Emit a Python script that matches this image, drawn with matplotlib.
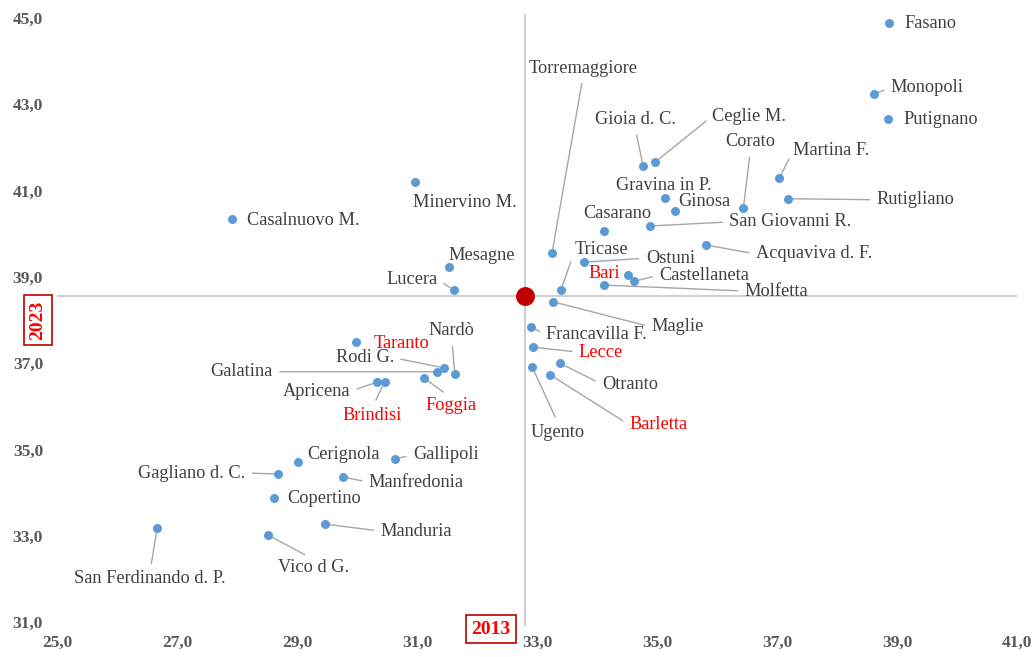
import matplotlib
matplotlib.use('Agg')
import matplotlib.pyplot as plt
from matplotlib.ticker import FixedLocator, FuncFormatter

# ---------------- data ----------------
cities = ['Fasano', 'Monopoli', 'Putignano', 'Martina F.', 'Rutigliano', 'Corato',
          'Acquaviva d. F.', 'Ceglie M.', 'Gioia d. C.', 'Gravina in P.', 'Ginosa',
          'San Giovanni R.', 'Casarano', 'Torremaggiore', 'Tricase', 'Ostuni', 'Bari',
          'Castellaneta', 'Molfetta', 'Maglie', 'Francavilla F.', 'Lecce', 'Otranto',
          'Ugento', 'Barletta', 'Lucera', 'Mesagne', 'Minervino M.', 'Casalnuovo M.',
          'Taranto', 'Rodi G.', 'Galatina', 'Nardò', 'Foggia', 'Apricena', 'Brindisi',
          'Cerignola', 'Gallipoli', 'Gagliano d. C.', 'Manfredonia', 'Copertino',
          'Manduria', 'San Ferdinando d. P.', 'Vico d G.']
val_2013 = [38.86, 38.61, 38.85, 37.04, 37.19, 36.44,
            35.81, 34.97, 34.77, 35.14, 35.30,
            34.89, 34.12, 33.25, 33.40, 33.78, 34.52,
            34.62, 34.12, 33.27, 32.90, 32.93, 33.38,
            32.92, 33.22, 31.61, 31.53, 30.96, 27.92,
            29.99, 31.45, 31.33, 31.63, 31.11, 30.34, 30.46,
            29.01, 30.63, 28.69, 29.76, 28.61,
            29.46, 26.67, 28.51]
val_2023 = [44.89, 43.24, 42.66, 41.29, 40.81, 40.60,
            39.74, 41.66, 41.57, 40.83, 40.53,
            40.18, 40.06, 39.55, 38.70, 39.34, 39.04,
            38.90, 38.81, 38.42, 37.84, 37.37, 37.00,
            36.91, 36.73, 38.70, 39.23, 41.20, 40.34,
            37.49, 36.89, 36.80, 36.75, 36.66, 36.56, 36.56,
            34.71, 34.78, 34.43, 34.36, 33.87,
            33.27, 33.18, 33.02]
highlight = ['Taranto', 'Bari', 'Foggia', 'Brindisi', 'Lecce', 'Barletta']
avg_2013 = 32.80
avg_2023 = 38.56
x_ticks = [25, 27, 29, 31, 33, 35, 37, 39, 41]
y_ticks = [31, 33, 35, 37, 39, 41, 43, 45]

# ---------------- label layout (pixel offsets, ha, leader line) ----------------
layout = {
    'Fasano': (16, 1, 'left', False),
    'Monopoli': (17, -6, 'left', True),
    'Putignano': (15, 1, 'left', False),
    'Martina F.': (14, -28, 'left', True),
    'Rutigliano': (88, 1, 'left', True),
    'Corato': (7, -66, 'center', True),
    'Acquaviva d. F.': (50, 9, 'left', True),
    'Ceglie M.': (57, -46, 'left', True),
    'Gioia d. C.': (-8, -46, 'center', True),
    'Gravina in P.': (-2, -12, 'center', False),
    'Ginosa': (3, -9, 'left', False),
    'San Giovanni R.': (79, -4, 'left', True),
    'Casarano': (13, -18, 'center', False),
    'Torremaggiore': (31, -185, 'center', True),
    'Tricase': (14, -40, 'left', True),
    'Ostuni': (62, -4, 'left', True),
    'Bari': (-8, -2, 'right', False),
    'Castellaneta': (25, -6, 'left', True),
    'Molfetta': (140, 6, 'left', True),
    'Maglie': (98, 25, 'left', True),
    'Francavilla F.': (15, 8, 'left', True),
    'Lecce': (46, 5, 'left', True),
    'Otranto': (42, 21, 'left', True),
    'Ugento': (26, 65, 'center', True),
    'Barletta': (79, 50, 'left', True),
    'Lucera': (-16, -10, 'right', True),
    'Mesagne': (33, -11, 'center', False),
    'Minervino M.': (50, 21, 'center', False),
    'Casalnuovo M.': (15, 1, 'left', False),
    'Taranto': (17, 1, 'left', False),
    'Rodi G.': (-50, -10, 'right', True),
    'Galatina': (-164, 0, 'right', True),
    'Nardò': (-3, -43, 'center', True),
    'Foggia': (27, 28, 'center', True),
    'Apricena': (-27, 9, 'right', True),
    'Brindisi': (-12, 33, 'center', True),
    'Cerignola': (10, -7, 'left', False),
    'Gallipoli': (18, -4, 'left', True),
    'Gagliano d. C.': (-33, -1, 'right', True),
    'Manfredonia': (26, 5, 'left', True),
    'Copertino': (14, 0, 'left', False),
    'Manduria': (56, 7, 'left', True),
    'San Ferdinando d. P.': (-7, 51, 'center', True),
    'Vico d G.': (46, 33, 'center', True),
}

SERIF = ['Liberation Serif', 'DejaVu Serif']
TXT = '#404040'
RED = '#FF0000'

fig = plt.figure(figsize=(10.35, 6.57), dpi=100)
W, H = 1035, 657
ax = fig.add_axes([57 / W, (H - 622) / H, 960 / W, 604 / H])
ax.set_xlim(25, 41)
ax.set_ylim(31, 45)

for s in ax.spines.values():
    s.set_visible(False)

ax.axvline(avg_2013, color='#D0D0D0', lw=1.5, zorder=1, ymin=-0.005, ymax=1.005, clip_on=False)
ax.axhline(avg_2023, color='#D0D0D0', lw=1.5, zorder=1)

ax.scatter(val_2013, val_2023, s=42, color='#5B9BD5', zorder=4, linewidths=0)
ax.scatter([avg_2013], [avg_2023], s=185, color='#C00000', zorder=5, linewidths=0)

px2pt = 72 / 100
for name, xv, yv in zip(cities, val_2013, val_2023):
    dx, dy, ha, leader = layout[name]
    col = RED if name in highlight else TXT
    if ha == 'left':
        rel = (0, 0.5)
    elif ha == 'right':
        rel = (1, 0.5)
    else:
        rel = (0.5, 0.0) if dy < 0 else (0.5, 1.0)
    arrow = None
    if leader:
        arrow = dict(arrowstyle='-', color='#A6A6A6', lw=1.0, shrinkA=3, shrinkB=3, relpos=rel)
    ax.annotate(name, xy=(xv, yv), xytext=(dx * px2pt, -dy * px2pt), textcoords='offset points',
                ha=ha, va='center', fontsize=13.2, family=SERIF, color=col,
                arrowprops=arrow, zorder=3)

fmt = FuncFormatter(lambda v, p: f"{v:.1f}".replace('.', ','))
ax.xaxis.set_major_locator(FixedLocator(x_ticks))
ax.yaxis.set_major_locator(FixedLocator(y_ticks))
ax.xaxis.set_major_formatter(fmt)
ax.yaxis.set_major_formatter(fmt)
ax.tick_params(axis='both', length=0, labelsize=12.5, labelcolor='#595959')
ax.tick_params(axis='x', pad=9)
ax.tick_params(axis='y', pad=10)
for lab in ax.get_xticklabels() + ax.get_yticklabels():
    lab.set_fontfamily(SERIF)
    lab.set_fontweight('bold')

box = dict(boxstyle='square,pad=0.3', facecolor='white', edgecolor='#C00000', lw=1.2)
fig.text(38 / W, 1 - 320 / H, '2023', rotation=90, ha='center', va='center', fontsize=14,
         fontweight='bold', family=SERIF, color=RED, bbox=box)
fig.text(491 / W, 1 - 629 / H, '2013', ha='center', va='center', fontsize=14,
         fontweight='bold', family=SERIF, color=RED, bbox=box)

fig.savefig('out.png', dpi=100, facecolor='white')
